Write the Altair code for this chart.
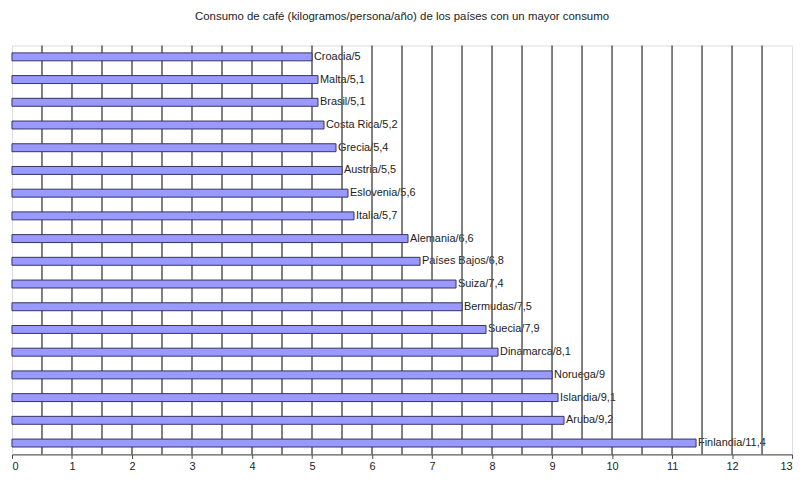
import altair as alt
import pandas as pd
import numpy as np

countries = ["Croacia", "Malta", "Brasil", "Costa Rica", "Grecia", "Austria", "Eslovenia",
             "Italia", "Alemania", "Países Bajos", "Suiza", "Bermudas", "Suecia", "Dinamarca",
             "Noruega", "Islandia", "Aruba", "Finlandia"]
values = [5, 5.1, 5.1, 5.2, 5.4, 5.5, 5.6, 5.7, 6.6, 6.8, 7.4, 7.5, 7.9, 8.1, 9, 9.1, 9.2, 11.4]
labels = [f"{c}/{str(v).replace('.', ',')}" for c, v in zip(countries, values)]
x_ticks = list(range(0, 14))
grid_vals = [float(g) for g in np.arange(0.5, 13.0, 0.5)]

df = pd.DataFrame({"pais": countries, "valor": values, "etiqueta": labels})
gdf = pd.DataFrame({"g": grid_vals})

xscale = alt.Scale(domain=[0, 13], nice=False, zero=True)
yenc = alt.Y("pais:N", sort=countries, axis=None)

text = alt.Chart(df).mark_text(align="left", baseline="middle", dx=2, fontSize=11,
                               font="Liberation Sans", color="#222").encode(
    x=alt.X("valor:Q", scale=xscale,
            axis=alt.Axis(values=x_ticks, title=None, grid=False, labelFontSize=11,
                          labelFont="Liberation Sans", labelColor="#222", tickSize=4,
                          tickColor="#444", domainColor="#444", labelPadding=2, format="d")),
    y=yenc, text="etiqueta:N")

rules = alt.Chart(gdf).mark_rule(color="#555", strokeWidth=1.5).encode(
    x=alt.X("g:Q", scale=xscale))

bars = alt.Chart(df).mark_bar(size=8, color="#9999FF", stroke="#333366", strokeWidth=1).encode(
    x=alt.X("valor:Q", scale=xscale), y=yenc)

chart = alt.layer(text, rules, bars).properties(
    width=786, height=412,
    title=alt.TitleParams("Consumo de café (kilogramos/persona/año) de los países con un mayor consumo",
                          fontSize=11.5, font="Liberation Sans", fontWeight="normal", color="#222",
                          offset=22, anchor="middle"),
    autosize=alt.AutoSizeParams(type="none"),
    padding={"left": 4, "top": 36, "right": 8, "bottom": 22},
).configure_view(fill="#C0C0C0", stroke="#999", strokeWidth=1).configure(background="white")

chart.save("out.html", embed_options={"renderer": "svg", "actions": False})
